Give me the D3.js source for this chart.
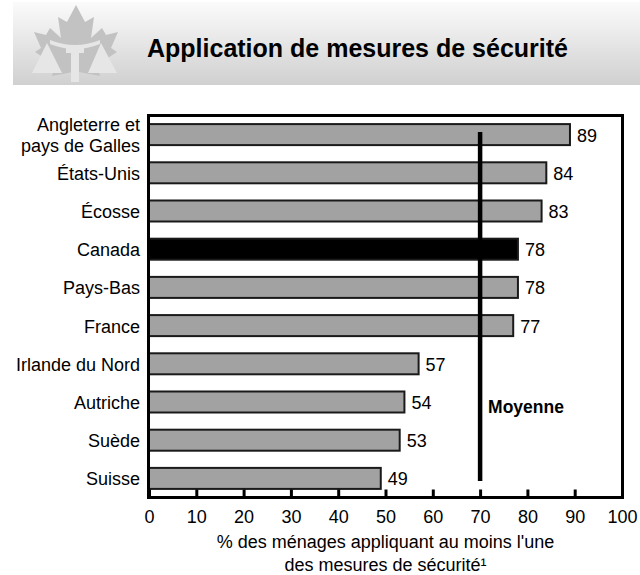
<!DOCTYPE html>
<html>
<head>
<meta charset="utf-8">
<script src="https://cdn.jsdelivr.net/npm/d3@7"></script>
<style>
  html, body { margin: 0; padding: 0; background: #fff; }
  svg { display: block; font-family: "Liberation Sans", Arial, Helvetica, sans-serif; }
</style>
</head>
<body>
<svg id="chart" width="640" height="575"></svg>
<script>
// Countries, top to bottom ("\n" marks a line break in the label)
const categories = [
  "Angleterre et\npays de Galles", "États-Unis", "Écosse", "Canada", "Pays-Bas",
  "France", "Irlande du Nord", "Autriche", "Suède", "Suisse"
];
// Share of households using at least one security measure (%)
const values = [89, 84, 83, 78, 78, 77, 57, 54, 53, 49];
const highlighted = "Canada";
const averageValue = 70;
const averageLabel = "Moyenne";
const xTicks = [0, 10, 20, 30, 40, 50, 60, 70, 80, 90, 100];
const title = "Application de mesures de sécurité";
const axisTitle = ["% des ménages appliquant au moins l'une", "des mesures de sécurité¹"];

const svg = d3.select("#chart");

// ---- Header band with emblem ----
const defs = svg.append("defs");
const grad = defs.append("linearGradient")
  .attr("id", "hdr").attr("x1", 0).attr("y1", 0).attr("x2", 0).attr("y2", 1);
grad.append("stop").attr("offset", "0%").attr("stop-color", "#fbfbfb");
grad.append("stop").attr("offset", "100%").attr("stop-color", "#d0d0d0");

svg.append("rect")
  .attr("x", 13).attr("y", 2).attr("width", 627).attr("height", 83)
  .attr("fill", "url(#hdr)");

const leaf = [
  [76,5],[85,22],[94,17],[91,38],[102,28],[106,35],[118,32],[111,48],[117,52],
  [97,65],[100,76],[79,72],[79,82],[73,82],[73,72],[52,76],[55,65],[35,52],
  [41,48],[34,32],[46,35],[50,28],[61,38],[58,17],[67,22]
];
svg.append("path")
  .attr("d", d3.line()(leaf) + "Z")
  .attr("fill", "#c2c2c2");
// scales-of-justice figure on the leaf
const light = "#e6e6e6";
svg.append("path").attr("d", "M47,43 L32,73 L62,73 Z").attr("fill", light);
svg.append("path").attr("d", "M101,43 L88,73 L117,73 Z").attr("fill", light);
svg.append("path").attr("d", "M50,40 Q75,50 100,40 L100,44 Q75,54 50,44 Z").attr("fill", light);
svg.append("rect").attr("x", 71).attr("y", 50).attr("width", 8).attr("height", 32).attr("fill", light);
svg.append("rect").attr("x", 66).attr("y", 47).attr("width", 18).attr("height", 6).attr("fill", light);

svg.append("text")
  .attr("x", 147).attr("y", 57)
  .attr("font-size", 25).attr("font-weight", "bold").attr("fill", "#000")
  .text(title);

// ---- Plot ----
const plot = { left: 149, right: 622, top: 115.5, bottom: 497.5 };

const x = d3.scaleLinear().domain([0, 100]).range([plot.left, plot.right]);
const y = d3.scaleBand().domain(categories)
  .range([plot.top, plot.bottom])
  .paddingInner(0.45).paddingOuter(0.225);

// bars
svg.append("g").selectAll("rect")
  .data(categories.map((c, i) => ({ c, v: values[i] })))
  .join("rect")
  .attr("x", x(0))
  .attr("y", d => y(d.c))
  .attr("width", d => x(d.v) - x(0))
  .attr("height", y.bandwidth())
  .attr("fill", d => d.c === highlighted ? "#000" : "#a2a2a2")
  .attr("stroke", "#1a1a1a")
  .attr("stroke-width", 2);

// value labels
svg.append("g").selectAll("text")
  .data(categories.map((c, i) => ({ c, v: values[i] })))
  .join("text")
  .attr("x", d => x(d.v) + 7)
  .attr("y", d => y(d.c) + y.bandwidth() / 2 + 7)
  .attr("font-size", 18)
  .text(d => d.v);

// category labels
const catG = svg.append("g").attr("font-size", 18).attr("text-anchor", "end");
categories.forEach(c => {
  const lines = c.split("\n");
  const cy = y(c) + y.bandwidth() / 2;
  const t = catG.append("text").attr("x", 140);
  if (lines.length === 1) {
    t.attr("y", cy + 7).text(lines[0]);
  } else {
    lines.forEach((ln, i) => {
      t.append("tspan").attr("x", 140).attr("y", cy - 3.5 + i * 21).text(ln);
    });
  }
});

// average line
svg.append("line")
  .attr("x1", x(averageValue)).attr("x2", x(averageValue))
  .attr("y1", 132).attr("y2", 481)
  .attr("stroke", "#000").attr("stroke-width", 4.5);
svg.append("text")
  .attr("x", x(averageValue) + 8).attr("y", 413)
  .attr("font-size", 17.5).attr("font-weight", "bold")
  .text(averageLabel);

// x axis: ticks pointing up into the frame
const axis = svg.append("g")
  .attr("transform", `translate(0,${plot.bottom})`)
  .call(d3.axisBottom(x).tickValues(xTicks).tickSizeInner(-8).tickSizeOuter(0).tickPadding(13));
axis.select(".domain").remove();
axis.selectAll(".tick line").attr("stroke", "#000").attr("stroke-width", 3);
axis.selectAll(".tick text")
  .attr("font-size", 18).attr("font-family", "Liberation Sans, Arial, sans-serif").attr("fill", "#000");

// frame
svg.append("rect")
  .attr("x", plot.left - 0.5).attr("y", plot.top)
  .attr("width", plot.right - plot.left + 1).attr("height", plot.bottom - plot.top)
  .attr("fill", "none").attr("stroke", "#000").attr("stroke-width", 3);

// axis title
svg.append("g").attr("font-size", 18).attr("text-anchor", "middle")
  .selectAll("text").data(axisTitle).join("text")
  .attr("x", x(50)).attr("y", (d, i) => 548 + i * 23)
  .text(d => d);
</script>
</body>
</html>
